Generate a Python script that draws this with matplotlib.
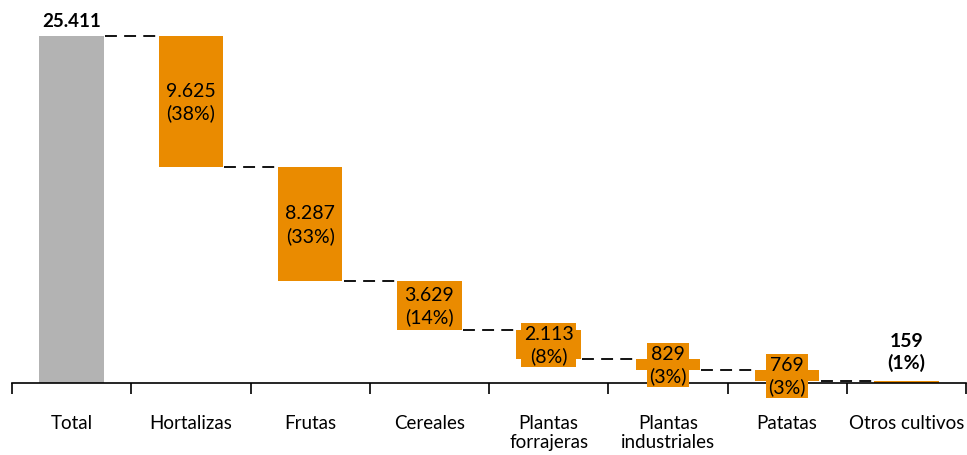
import matplotlib.pyplot as plt

categorias = ["Total", "Hortalizas", "Frutas", "Cereales", "Plantas\nforrajeras",
              "Plantas\nindustriales", "Patatas", "Otros cultivos"]
total = 25411
valores = [9625, 8287, 3629, 2113, 829, 769, 159]
porcentajes = [38, 33, 14, 8, 3, 3, 1]

naranja = "#EA8B00"
gris = "#B3B3B3"

def fmt(v):
    return f"{v:,}".replace(",", ".")

plt.rcParams['font.family'] = ['Lato', 'DejaVu Sans']

fig = plt.figure(figsize=(9.67, 4.56), dpi=100)
ax = fig.add_axes([12 / 967, 72 / 456, 954 / 967, 384 / 456])

ancho = 0.54
ax.bar(0, total, width=ancho, color=gris)
ax.text(0, total + 500, fmt(total), ha="center", va="bottom",
        fontsize=13.5, fontweight="bold")

nivel = total
for i, (v, p) in enumerate(zip(valores, porcentajes), start=1):
    base = nivel - v
    # conector discontinuo desde la barra anterior
    ax.plot([i - 1 + ancho / 2 + 0.01, i - ancho / 2], [nivel, nivel], color="black",
            lw=1.3, ls=(0, (6.6, 4)))
    ax.bar(i, v, bottom=base, width=ancho, color=naranja)
    txt = f"{fmt(v)}\n({p}%)"
    if i < len(valores):
        ax.text(i, base + v / 2, txt, ha="center", va="center", fontsize=14,
                linespacing=1.3,
                bbox=dict(boxstyle="square,pad=0.12", fc=naranja, ec="none"))
    else:
        ax.text(i, nivel + 700, txt, ha="center", va="bottom", fontsize=14,
                fontweight="bold", linespacing=1.3)
    nivel = base

ax.set_xlim(-0.5, len(categorias) - 0.5)
ax.set_ylim(0, total * 384 / 347)

for s in ["top", "right", "left"]:
    ax.spines[s].set_visible(False)
ax.spines["bottom"].set_linewidth(1.2)
ax.set_yticks([])

ax.set_xticks(range(len(categorias)))
ax.set_xticklabels(categorias, fontsize=13.5, va="top", linespacing=1.2)
ax.tick_params(axis="x", which="major", length=0, pad=22)
ax.set_xticks([i - 0.5 for i in range(len(categorias) + 1)], minor=True)
ax.tick_params(axis="x", which="minor", length=8, width=1.2, direction="out")

fig.savefig("out.png", dpi=100)
